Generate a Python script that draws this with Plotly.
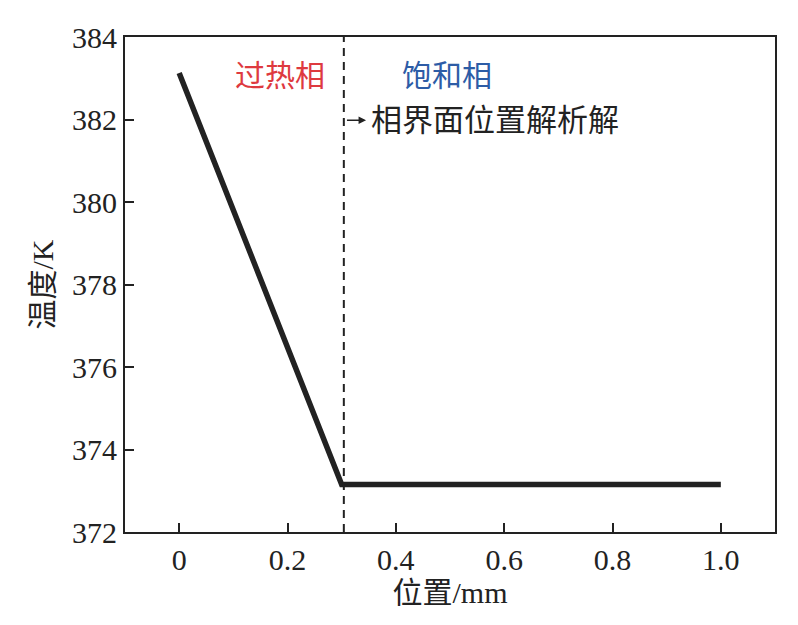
import plotly.graph_objects as go

# Data
position_mm = [0.0, 0.30, 1.0]
temperature_K = [383.13, 373.15, 373.15]
interface_x = 0.304
y_ticks = [372, 374, 376, 378, 380, 382, 384]
x_ticks = [0, 0.2, 0.4, 0.6, 0.8, 1.0]
x_tick_labels = ["0", "0.2", "0.4", "0.6", "0.8", "1.0"]

FONT = "Liberation Serif, Times New Roman, Noto Sans CJK SC, serif"
INK = "#222222"

fig = go.Figure()
fig.add_trace(go.Scatter(x=position_mm, y=temperature_K, mode="lines",
                         line=dict(color=INK, width=5.5), showlegend=False))
fig.add_trace(go.Scatter(x=[interface_x, interface_x], y=[372, 384], mode="lines",
                         line=dict(color=INK, width=2, dash="8px,6px"), showlegend=False))

fig.add_annotation(x=0.186, y=383.07, text="过热相", showarrow=False,
                   font=dict(family=FONT, size=30, color="#de3a3f"))
fig.add_annotation(x=0.495, y=383.07, text="饱和相", showarrow=False,
                   font=dict(family=FONT, size=30, color="#2d5ca6"))
fig.add_annotation(x=0.351, y=381.98, text="相界面位置解析解", showarrow=False,
                   xanchor="left", font=dict(family=FONT, size=31, color=INK))
fig.add_annotation(x=0.345, y=381.98, ax=0.307, ay=381.98, axref="x", ayref="y",
                   text="", showarrow=True, arrowhead=2, arrowsize=1, arrowwidth=1.5,
                   arrowcolor=INK)

axis_common = dict(showline=True, linecolor=INK, linewidth=2, mirror=True,
                   ticks="inside", ticklen=9, tickwidth=2, tickcolor=INK,
                   showgrid=False, zeroline=False,
                   tickfont=dict(family=FONT, size=30, color=INK))

fig.update_xaxes(range=[-0.1, 1.1], tickvals=x_ticks, ticktext=x_tick_labels,
                 title=dict(text="位置/mm", font=dict(family=FONT, size=30, color=INK),
                            standoff=6),
                 **axis_common)
fig.update_yaxes(range=[372, 384], tickvals=y_ticks,
                 title=dict(text="温度/K", font=dict(family=FONT, size=30, color=INK),
                            standoff=10),
                 **axis_common)

# page body has an 8px margin, so the figure is sized/placed to compensate
fig.update_layout(width=790, height=617, margin=dict(l=117, r=23, t=27, b=93),
                  plot_bgcolor="white", paper_bgcolor="white")

fig.write_html("out.html")
